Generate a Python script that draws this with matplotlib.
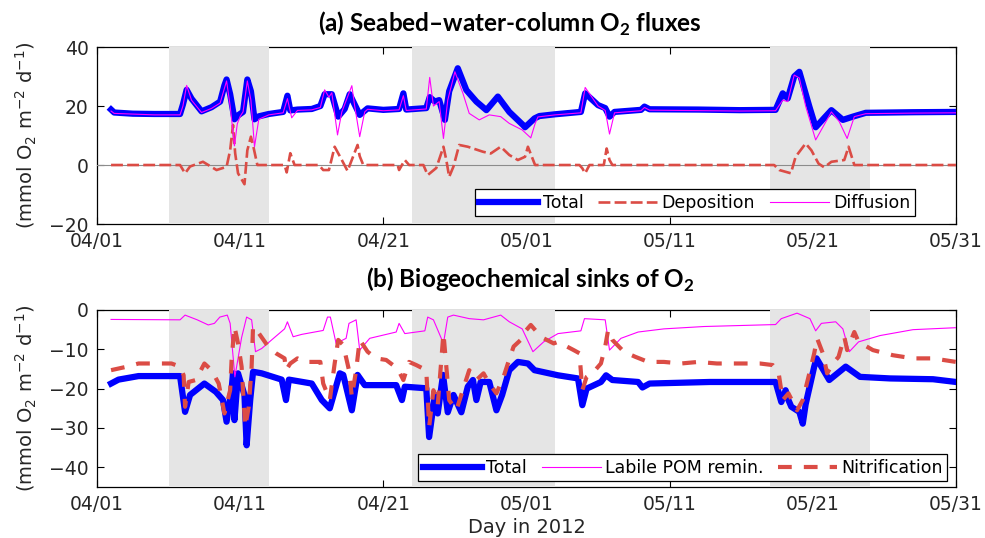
import matplotlib
matplotlib.use("Agg")
import matplotlib.pyplot as plt

# days since 04/01 00:00, 2012
tick_days = [0, 10, 20, 30, 40, 50, 60]
tick_labels = ["04/01", "04/11", "04/21", "05/01", "05/11", "05/21", "05/31"]
shaded_periods = [(5, 12), (22, 32), (47, 54)]

# (a) seabed - water-column O2 fluxes
total_a_day = [0.98, 1.2, 2.5, 4.0, 5.8, 6.0, 6.26, 6.6, 7.3, 8.0, 8.6, 8.9, 9.05, 9.3, 9.6, 9.9,
               10.2, 10.5, 10.75, 11.0, 11.3, 12.0, 13.0, 13.3, 13.5, 14.0, 15.0, 15.6, 15.9, 16.4,
               16.85, 17.3, 17.65, 18.35, 18.9, 20.0, 21.1, 21.4, 21.6, 23.0, 23.24, 23.6, 23.9,
               24.3, 24.6, 25.2, 25.8, 26.5, 27.2, 28.0, 28.8, 29.75, 29.9, 30.56, 30.9, 32.0,
               33.8, 34.1, 35.0, 35.5, 35.8, 36.15, 38.0, 38.24, 38.6, 42.0, 44.9, 47.4, 47.9,
               48.25, 48.7, 49.06, 49.76, 50.2, 51.3, 52.1, 52.8, 53.7, 57.0, 60.0]
total_a = [18.8, 17.8, 17.4, 17.3, 17.3, 20.5, 25.5, 22.5, 18.2, 19.6, 21.5, 27.0, 29.0, 24.0, 15.5,
           17.0, 18.0, 29.0, 25.0, 15.5, 16.5, 17.3, 18.0, 23.5, 18.5, 18.8, 19.0, 20.0, 24.0, 24.0,
           16.4, 19.0, 24.0, 17.0, 19.2, 18.7, 19.0, 24.3, 18.8, 19.3, 23.0, 21.5, 22.0,
           15.3, 25.0, 32.8, 25.4, 21.5, 18.6, 23.2, 18.0, 13.6, 12.8, 15.8, 16.6, 17.2,
           18.0, 24.3, 20.3, 19.3, 16.4, 18.0, 18.7, 19.8, 18.9, 18.8, 18.6, 18.7, 24.3,
           22.6, 30.0, 31.6, 19.8, 12.8, 18.6, 15.3, 16.4, 17.7, 17.9, 18.0]

deposition_day = [0.98, 5.8, 6.15, 6.5, 7.4, 8.35, 9.05, 9.3, 9.5, 9.65, 9.85, 10.3, 10.5, 10.75,
                  10.95, 11.2, 13.1, 13.25, 13.5, 13.8, 15.5, 15.8, 16.2, 16.6, 17.1, 17.5, 18.2,
                  18.35, 18.6, 21.0, 21.1, 21.5, 21.8, 22.8, 23.1, 23.7, 24.2, 24.4, 24.6, 24.9,
                  25.3, 25.9, 26.96, 27.5, 28.2, 28.8, 29.4, 29.9, 30.1, 30.6, 33.7, 33.9, 34.1,
                  34.4, 35.4, 35.6, 35.8, 36.0, 47.3, 47.66, 48.47, 48.8, 49.5, 49.9, 50.4, 50.8,
                  51.3, 52.2, 52.5, 52.9, 60.0]
deposition = [0.0, 0.0, -2.8, -0.5, 1.1, -1.7, -0.6, 5.0, 13.6, 4.0, -2.8, -6.5, 5.0, 9.6,
              5.6, 0.0, 0.0, -2.5, 4.0, 0.0, 0.0, -1.7, -1.7, 6.2, 1.7, -2.0, 6.8,
              3.0, 0.0, 0.0, -1.7, 1.7, 0.0, 0.0, -3.4, -1.0, 6.2, 1.7, -4.0, -0.5,
              6.8, 6.2, 4.5, 3.9, 6.2, 3.4, 1.7, 2.8, 6.2, 0.0, 0.0, -1.1, -2.8,
              0.0, 0.0, 5.6, 1.7, 0.0, 0.0, -1.7, -2.8, 2.8, 7.3, 5.0, 0.5, -0.8,
              1.1, 1.7, 6.2, 0.0, 0.0]

diffusion_day = [0.98, 1.2, 4.0, 5.8, 6.0, 6.26, 6.6, 7.3, 8.0, 8.6, 8.9, 9.05, 9.3, 9.6, 9.8,
                 10.0, 10.2, 10.5, 10.75, 11.0, 11.3, 12.0, 13.0, 13.3, 13.6, 14.0, 15.0, 15.6,
                 15.9, 16.2, 16.4, 16.8, 17.1, 17.8, 18.0, 18.35, 18.7, 18.9, 20.0, 21.1, 21.4,
                 21.6, 23.0, 23.24, 23.5, 23.9, 24.2, 24.5, 25.0, 25.56, 26.0, 26.7, 27.4, 28.2,
                 28.8, 29.7, 30.3, 30.6, 30.8, 32.0, 33.8, 34.1, 35.0, 35.5, 35.8, 36.15, 38.0,
                 38.24, 38.6, 44.9, 47.4, 47.9, 48.25, 48.7, 49.06, 49.5, 50.2, 51.3, 51.85,
                 52.4, 52.9, 53.7, 57.0, 60.0]
diffusion = [18.3, 17.5, 17.0, 17.0, 20.0, 27.0, 22.0, 17.8, 19.2, 21.0, 26.0, 28.5, 20.0, 6.5, 14.0,
             16.5, 18.0, 28.5, 22.0, 6.2, 15.5, 17.0, 17.7, 22.5, 16.0, 18.5, 18.7, 19.5,
             25.5, 23.0, 24.5, 10.2, 18.0, 26.9, 20.0, 9.6, 18.0, 18.9, 18.4, 18.7, 23.5,
             18.5, 19.0, 29.7, 20.0, 21.5, 9.0, 22.0, 31.6, 24.3, 17.5, 15.3, 17.0, 16.4,
             14.1, 11.9, 9.2, 14.0, 16.3, 17.0, 17.7, 26.3, 20.0, 18.5, 10.5, 17.7, 18.4,
             19.5, 18.6, 18.3, 18.4, 22.0, 21.5, 30.5, 29.5, 20.0, 8.5, 18.0, 14.7,
             9.0, 16.4, 17.4, 17.6, 17.7]

# (b) biogeochemical sinks of O2
total_b_day = [0.98, 1.5, 2.9, 5.8, 6.0, 6.15, 6.5, 7.5, 8.3, 8.8, 9.05, 9.4, 9.5, 9.6, 9.85, 10.3,
               10.45, 10.7, 10.9, 11.5, 12.9, 13.2, 13.4, 15.0, 15.7, 16.26, 16.96, 17.2, 17.8,
               18.2, 18.7, 20.9, 21.3, 21.5, 23.0, 23.2, 23.6, 23.8, 24.17, 24.5, 24.9, 25.45,
               25.9, 26.26, 26.5, 26.8, 27.4, 27.9, 28.3, 28.8, 29.4, 30.1, 30.56, 32.2, 33.6,
               33.9, 34.2, 35.2, 35.56, 36.0, 37.8, 38.1, 38.6, 42.8, 47.4, 47.8, 48.1, 48.3,
               48.5, 49.06, 49.3, 49.5, 50.1, 50.26, 51.15, 52.3, 53.3, 55.4, 58.4, 60.0]
total_b = [-18.7, -17.7, -16.8, -16.8, -22.0, -25.9, -21.6, -18.7, -20.8, -22.9, -28.4, -20.2, -16.1,
           -28.0, -16.1, -21.6, -34.4, -22.9, -15.7, -16.1, -17.7, -22.9, -17.7, -18.7, -22.9,
           -25.0, -16.1, -16.5, -25.5, -16.5, -19.1, -19.1, -22.9, -19.5, -19.9, -32.3, -21.6,
           -26.3, -16.5, -26.0, -21.6, -26.0, -19.5, -17.8, -22.9, -18.3, -18.3, -25.5, -21.6,
           -15.3, -13.2, -13.6, -15.3, -16.6, -17.4, -24.2, -20.0, -18.3, -16.6, -17.8, -18.3,
           -19.7, -18.7, -18.3, -18.3, -23.4, -20.4, -22.9, -24.6, -25.9, -28.9, -24.0, -14.4,
           -12.3, -17.8, -14.4, -17.0, -17.4, -17.6, -18.3]

pom_day = [0.98, 5.8, 6.15, 7.0, 7.77, 8.2, 8.58, 9.1, 9.3, 9.63, 10.1, 10.45, 10.8, 11.07, 11.5,
           12.2, 13.1, 13.3, 13.7, 14.3, 15.8, 16.1, 16.3, 16.7, 17.4, 17.6, 18.1, 18.35, 19.05,
           20.9, 21.1, 21.5, 22.9, 23.1, 23.5, 24.2, 24.5, 24.9, 26.0, 27.0, 28.2, 28.8, 29.7,
           30.45, 31.2, 32.2, 33.8, 34.05, 35.5, 35.8, 36.6, 37.8, 39.6, 42.4, 47.4, 47.8, 48.9,
           49.8, 50.2, 50.6, 51.6, 52.1, 52.55, 53.2, 54.7, 57.0, 60.0]
pom = [-2.4, -2.5, -1.3, -2.5, -3.8, -3.4, -1.8, -1.3, -3.4, -17.0, -7.0, -1.8, -2.5, -10.6, -9.8,
       -7.6, -4.8, -3.0, -6.8, -6.2, -5.2, -1.8, -1.8, -8.5, -7.2, -3.4, -2.5, -10.2, -7.2,
       -5.6, -3.4, -6.0, -5.3, -1.8, -2.5, -8.5, -1.8, -1.3, -2.2, -2.5, -1.3, -3.0, -4.8,
       -10.6, -8.1, -6.0, -5.3, -2.2, -2.5, -10.2, -7.2, -5.6, -4.8, -4.2, -3.7, -2.2, -0.8,
       -2.2, -5.3, -3.4, -3.0, -4.8, -10.6, -8.1, -6.5, -5.0, -4.5]

nitrif_day = [0.98, 2.1, 2.9, 4.0, 5.2, 5.8, 6.05, 6.15, 6.4, 6.9, 7.5, 8.0, 8.5, 8.9, 9.3, 9.4,
              9.6, 9.85, 10.1, 10.35, 10.6, 10.8, 10.9, 11.3, 11.8, 12.07, 12.5, 13.1, 13.2,
              13.5, 14.0, 14.5, 15.6, 15.8, 16.26, 16.6, 16.85, 17.2, 17.6, 17.8, 18.1, 18.35,
              18.9, 19.5, 20.2, 21.0, 21.4, 21.8, 22.3, 23.0, 23.2, 23.5, 23.8, 24.2, 24.4,
              24.6, 25.1, 25.4, 26.0, 26.5, 27.0, 27.4, 27.9, 28.4, 28.7, 29.1, 29.6, 29.87,
              30.3, 30.8, 31.2, 31.9, 32.2, 33.3, 33.7, 33.9, 34.2, 34.7, 35.2, 35.5, 35.7,
              36.0, 36.8, 37.6, 38.5, 39.6, 40.8, 42.0, 43.3, 44.7, 46.3, 47.2, 47.6, 47.9,
              48.3, 48.9, 49.3, 49.76, 50.1, 50.3, 50.7, 51.0, 51.4, 51.8, 52.2, 52.4, 52.9,
              53.2, 54.2, 55.6, 57.0, 58.4, 60.0]
nitrif = [-15.3, -14.4, -13.6, -13.6, -13.6, -14.4, -16.6, -24.6, -18.3, -17.8, -13.6, -15.3, -18.7,
          -26.3, -20.4, -12.7, -4.2, -8.5, -14.4, -29.7, -24.6, -14.4, -4.2, -5.9, -8.5, -9.8,
          -11.0, -12.3, -15.3, -13.6, -12.3, -13.2, -13.2, -18.7, -22.9, -13.6, -7.6, -8.9,
          -15.3, -22.1, -15.3, -7.6, -10.6, -12.3, -12.7, -14.9, -17.8, -13.2, -14.0, -15.3,
          -29.7, -20.4, -24.2, -5.9, -14.4, -22.9, -25.5, -22.1, -15.3, -17.8, -16.1, -18.7,
          -21.2, -17.0, -13.6, -9.3, -7.6, -5.6, -3.8, -5.9, -7.2, -8.5, -8.1, -10.2, -11.0,
          -20.4, -17.0, -15.7, -13.6, -9.3, -5.1, -7.6, -10.6, -11.9, -13.2, -13.2, -13.6,
          -13.2, -13.6, -13.6, -13.6, -14.0, -15.7, -22.9, -21.2, -25.5, -22.9, -16.1, -11.0,
          -7.2, -11.0, -16.1, -13.6, -11.9, -6.8, -10.2, -5.6, -8.1, -10.2, -11.5, -12.3,
          -12.3, -13.2]

BLUE = "#0000ff"
RED = "#db4c45"
MAGENTA = "#ff00ff"
SHADE = "#e5e5e5"

plt.rcParams["font.family"] = ["DejaVu Sans"]
plt.rcParams["mathtext.fontset"] = "custom"
plt.rcParams["mathtext.rm"] = "DejaVu Sans"
plt.rcParams["mathtext.it"] = "DejaVu Sans:italic"
plt.rcParams["mathtext.bf"] = "Lato:bold"

fig = plt.figure(figsize=(9.85, 5.38), dpi=100)
ax1 = fig.add_axes([0.0985, 0.5836, 0.872, 0.329])
ax2 = fig.add_axes([0.0985, 0.0948, 0.872, 0.329])

ylabel = r"(mmol O$_\mathregular{2}$ m$^{-2}$ d$^{-1}$)"

for ax in (ax1, ax2):
    for start, end in shaded_periods:
        ax.axvspan(start, end, color=SHADE, lw=0, zorder=2.6)
    ax.set_xlim(0, 60)
    ax.set_xticks(tick_days)
    ax.set_xticklabels(tick_labels)
    ax.tick_params(direction="in", length=5, width=0.8, top=True, right=True,
                   labelsize=13.5, labelcolor="#262626", pad=6)
    for s in ax.spines.values():
        s.set_linewidth(0.9)
    ax.set_ylabel(ylabel, fontsize=14, color="#262626")
    ax.yaxis.set_label_coords(-0.068, 0.5)

legend_style = dict(loc="lower right", ncol=3, fontsize=12.5, handlelength=3.4,
                    handletextpad=0.25, columnspacing=0.85, borderpad=0.25, borderaxespad=0,
                    fancybox=False, framealpha=1, edgecolor="k")

# (a)
ax1.axhline(0, color="0.55", lw=0.8, zorder=2.7)
ax1.plot(total_a_day, total_a, color=BLUE, lw=4.5, label="Total", zorder=3)
ax1.plot(deposition_day, deposition, color=RED, lw=1.9, ls=(0, (4.5, 1.6)),
         label="Deposition", zorder=4)
ax1.plot(diffusion_day, diffusion, color=MAGENTA, lw=0.8, label="Diffusion", zorder=5)
ax1.set_ylim(-20, 40)
ax1.set_yticks([-20, 0, 20, 40])
leg1 = ax1.legend(bbox_to_anchor=(0.952, 0.045), **legend_style)
leg1.get_frame().set_linewidth(0.9)
leg1.set_zorder(10)

# (b)
ax2.plot(total_b_day, total_b, color=BLUE, lw=4.5, label="Total", zorder=3)
ax2.plot(pom_day, pom, color=MAGENTA, lw=0.8, label="Labile POM remin.", zorder=4)
ax2.plot(nitrif_day, nitrif, color=RED, lw=3.0, ls=(0, (3.3, 2.9)),
         label="Nitrification", zorder=5)
ax2.set_ylim(-45, 0)
ax2.set_yticks([-40, -30, -20, -10, 0])
leg2 = ax2.legend(bbox_to_anchor=(0.99, 0.034), **legend_style)
leg2.get_frame().set_linewidth(0.9)
leg2.set_zorder(10)
ax2.set_xlabel("Day in 2012", fontsize=14, color="#262626")
ax2.xaxis.set_label_coords(0.5, -0.175)

fig.text(0.518, 0.9405, r"(a) Seabed–water-column O$_\mathbf{2}$ fluxes", family="Lato",
         weight="bold", fontsize=17.5, ha="center", va="baseline")
fig.text(0.538, 0.4647, r"(b) Biogeochemical sinks of O$_\mathbf{2}$", family="Lato",
         weight="bold", fontsize=17.5, ha="center", va="baseline")

fig.savefig("out.png", dpi=100)
